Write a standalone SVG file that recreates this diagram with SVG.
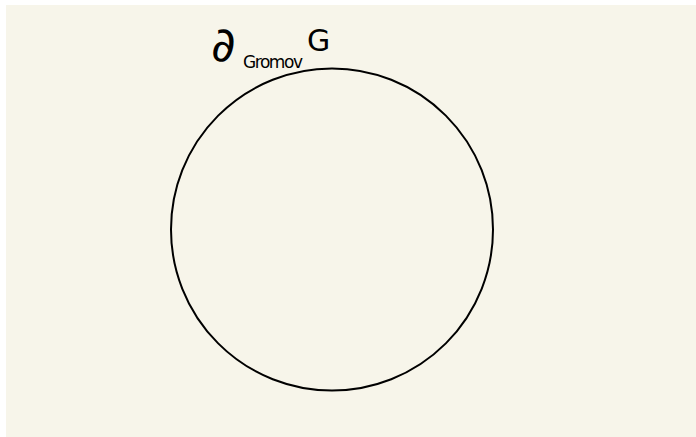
<svg xmlns="http://www.w3.org/2000/svg" width="696" height="437" viewBox="0 0 696 437">
<style>
.lbl{font-family:"DejaVu Sans","Liberation Sans",sans-serif;fill:#000}
</style>
<rect width="696" height="437" fill="#ffffff"/>
<rect x="6" y="5" width="690" height="432" fill="#f7f5ea"/>
<g id="boundary">
<circle cx="332" cy="229.5" r="161" fill="none" stroke="#000" stroke-width="2"/>
</g>
<g id="label">
<text class="lbl" x="211" y="61" font-size="48">∂</text>
<text class="lbl" x="243" y="68" font-size="17" textLength="60">Gromov</text>
<text class="lbl" x="307" y="51" font-size="30">G</text>
</g>
</svg>
